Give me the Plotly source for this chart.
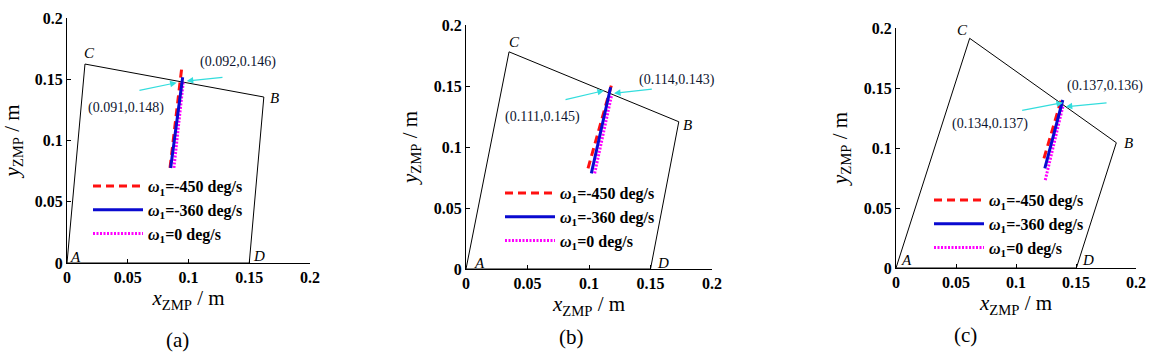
import plotly.graph_objects as go

# ---------------- data ----------------
vertex_labels = ["A", "C", "B", "D"]

poly_x_a = [0.0, 0.0148, 0.162, 0.150]
poly_y_a = [0.0, 0.1624, 0.1355, 0.0]
poly_x_b = [0.0, 0.035, 0.173, 0.150]
poly_y_b = [0.0, 0.178, 0.1207, 0.0]
poly_x_c = [0.0, 0.0614, 0.1836, 0.1503]
poly_y_c = [0.0, 0.1914, 0.1044, 0.0]

series_names = ["<b><i>ω</i><sub>1</sub>=-450 deg/s</b>",
                "<b><i>ω</i><sub>1</sub>=-360 deg/s</b>",
                "<b><i>ω</i><sub>1</sub>=0 deg/s</b>"]

# trajectories  [w=-450, w=-360, w=0]
traj_x_a = [[0.0848, 0.0944], [0.0853, 0.0952], [0.0880, 0.0957]]
traj_y_a = [[0.0776, 0.1590], [0.0776, 0.1516], [0.0776, 0.1480]]
traj_x_b = [[0.0992, 0.1190], [0.1019, 0.1176], [0.1046, 0.1184]]
traj_y_b = [[0.0825, 0.1535], [0.0784, 0.1490], [0.0784, 0.1426]]
traj_x_c = [[0.1233, 0.1383], [0.1240, 0.1390], [0.1244, 0.1390]]
traj_y_c = [[0.0914, 0.1422], [0.0831, 0.1400], [0.0733, 0.1344]]

# annotated crossing points: label, text x, text y, arrow tail x, tail y, head x, head y
notes_a = [("(0.092,0.146)", 0.1407, 0.1641, 0.1292, 0.1516, 0.0985, 0.1486),
           ("(0.091,0.148)", 0.0486, 0.1265, 0.0584, 0.1407, 0.0903, 0.1472)]
notes_b = [("(0.114,0.143)", 0.1715, 0.1550, 0.1523, 0.1475, 0.1203, 0.1440),
           ("(0.111,0.145)", 0.0618, 0.1248, 0.0797, 0.1385, 0.1122, 0.1462)]
notes_c = [("(0.137,0.136)", 0.1739, 0.1517, 0.1767, 0.1378, 0.1414, 0.1344),
           ("(0.134,0.137)", 0.0781, 0.1200, 0.1039, 0.1311, 0.1392, 0.1378)]

tick_vals = [0, 0.05, 0.1, 0.15, 0.2]
tick_text = ["0", "0.05", "0.1", "0.15", "0.2"]
panel_tags = ["(a)", "(b)", "(c)"]

# ---------------- styling ----------------
SERIF = "Liberation Serif"
line_styles = [dict(color="#ff1010", width=3, dash="8px,5px"),
               dict(color="#0a0ad0", width=3, dash="solid"),
               dict(color="#ff00ff", width=3, dash="2px,1.5px")]
draw_order = [0, 2, 1]

domains_x = [[67/1152, 310/1152], [466/1152, 712/1152], [896/1152, 1136/1152]]
domains_y = [[1-263/354, 1-18/354], [1-269/354, 1-25/354], [1-268/354, 1-28/354]]
legend_pos = [(88/1152, 1-169/354), (500/1152, 1-176/354), (929/1152, 1-183/354)]
tag_pos = [(177/1152, 1-340/354), (571/1152, 1-337/354), (965/1152, 1-335/354)]
label_shift = [
    [(8, 6), (5, 11), (11, -1), (10, 7)],
    [(13, 6), (5, 10), (9, -3), (12, 6)],
    [(10, 8), (-7, 8), (12, 0), (12, 8)],
]

panels = [
    (poly_x_a, poly_y_a, traj_x_a, traj_y_a, notes_a),
    (poly_x_b, poly_y_b, traj_x_b, traj_y_b, notes_b),
    (poly_x_c, poly_y_c, traj_x_c, traj_y_c, notes_c),
]

fig = go.Figure()
annotations = []
layout = {}

for i, (px, py, tx, ty, notes) in enumerate(panels):
    sfx = "" if i == 0 else str(i + 1)
    xa, ya = "x" + sfx, "y" + sfx
    leg = "legend" + sfx
    # support polygon
    fig.add_trace(go.Scatter(
        x=px + [px[0]], y=py + [py[0]], xaxis=xa, yaxis=ya, mode="lines",
        line=dict(color="black", width=1), showlegend=False, hoverinfo="skip"))
    # trajectories
    for k in draw_order:
        fig.add_trace(go.Scatter(
            x=tx[k], y=ty[k], xaxis=xa, yaxis=ya, mode="lines",
            line=line_styles[k], name=series_names[k], legend=leg,
            legendgroup="g%d_%d" % (i, k), legendrank=k + 1))
    # vertex labels
    for j, lab in enumerate(vertex_labels):
        sx, sy = label_shift[i][j]
        annotations.append(dict(
            x=px[j], y=py[j], xref=xa, yref=ya, text="<i>%s</i>" % lab,
            showarrow=False, xshift=sx, yshift=sy,
            font=dict(family=SERIF, size=15, color="black")))
    # crossing point notes with cyan arrows
    for (txt, nx, ny, ax0, ay0, hx, hy) in notes:
        annotations.append(dict(
            x=nx, y=ny, xref=xa, yref=ya, text=txt, showarrow=False,
            font=dict(family=SERIF, size=14, color="#0d1530")))
        annotations.append(dict(
            x=hx, y=hy, ax=ax0, ay=ay0, xref=xa, yref=ya, axref=xa, ayref=ya,
            text="", showarrow=True, arrowhead=2, arrowsize=1.1, arrowwidth=1.2,
            arrowcolor="#33dddd"))
    # panel tag
    annotations.append(dict(
        x=tag_pos[i][0], y=tag_pos[i][1], xref="paper", yref="paper",
        xanchor="center", yanchor="middle",
        text=panel_tags[i], showarrow=False,
        font=dict(family=SERIF, size=21, color="black")))

    axis_common = dict(
        range=[0, 0.2], showline=True, linecolor="black", linewidth=1,
        ticks="inside", ticklen=4, tickcolor="black", tickwidth=1,
        tickvals=tick_vals, ticktext=tick_text, showgrid=False, zeroline=False,
        automargin=False,
        tickfont=dict(family=SERIF, size=16, color="black", weight="bold"),
        fixedrange=True)
    layout["xaxis" + sfx] = dict(
        axis_common, domain=domains_x[i], anchor=ya,
        title=dict(text="<i>x</i><sub>ZMP</sub> / m", standoff=0,
                   font=dict(family=SERIF, size=21, color="black")))
    layout["yaxis" + sfx] = dict(
        axis_common, domain=domains_y[i], anchor=xa,
        title=dict(text="<i>y</i><sub>ZMP</sub> / m", standoff=10,
                   font=dict(family=SERIF, size=21, color="black")))
    layout[leg] = dict(
        x=legend_pos[i][0], y=legend_pos[i][1], xanchor="left", yanchor="top",
        bgcolor="rgba(0,0,0,0)", borderwidth=0, tracegroupgap=0, itemwidth=50,
        font=dict(family=SERIF, size=16, color="black"))

fig.update_layout(
    width=1152, height=354, margin=dict(l=0, r=0, t=0, b=0),
    paper_bgcolor="white", plot_bgcolor="white",
    annotations=annotations, **layout)

fig.write_html("out.html", config={"displayModeBar": False},
               post_script="document.body.style.margin='0';")
